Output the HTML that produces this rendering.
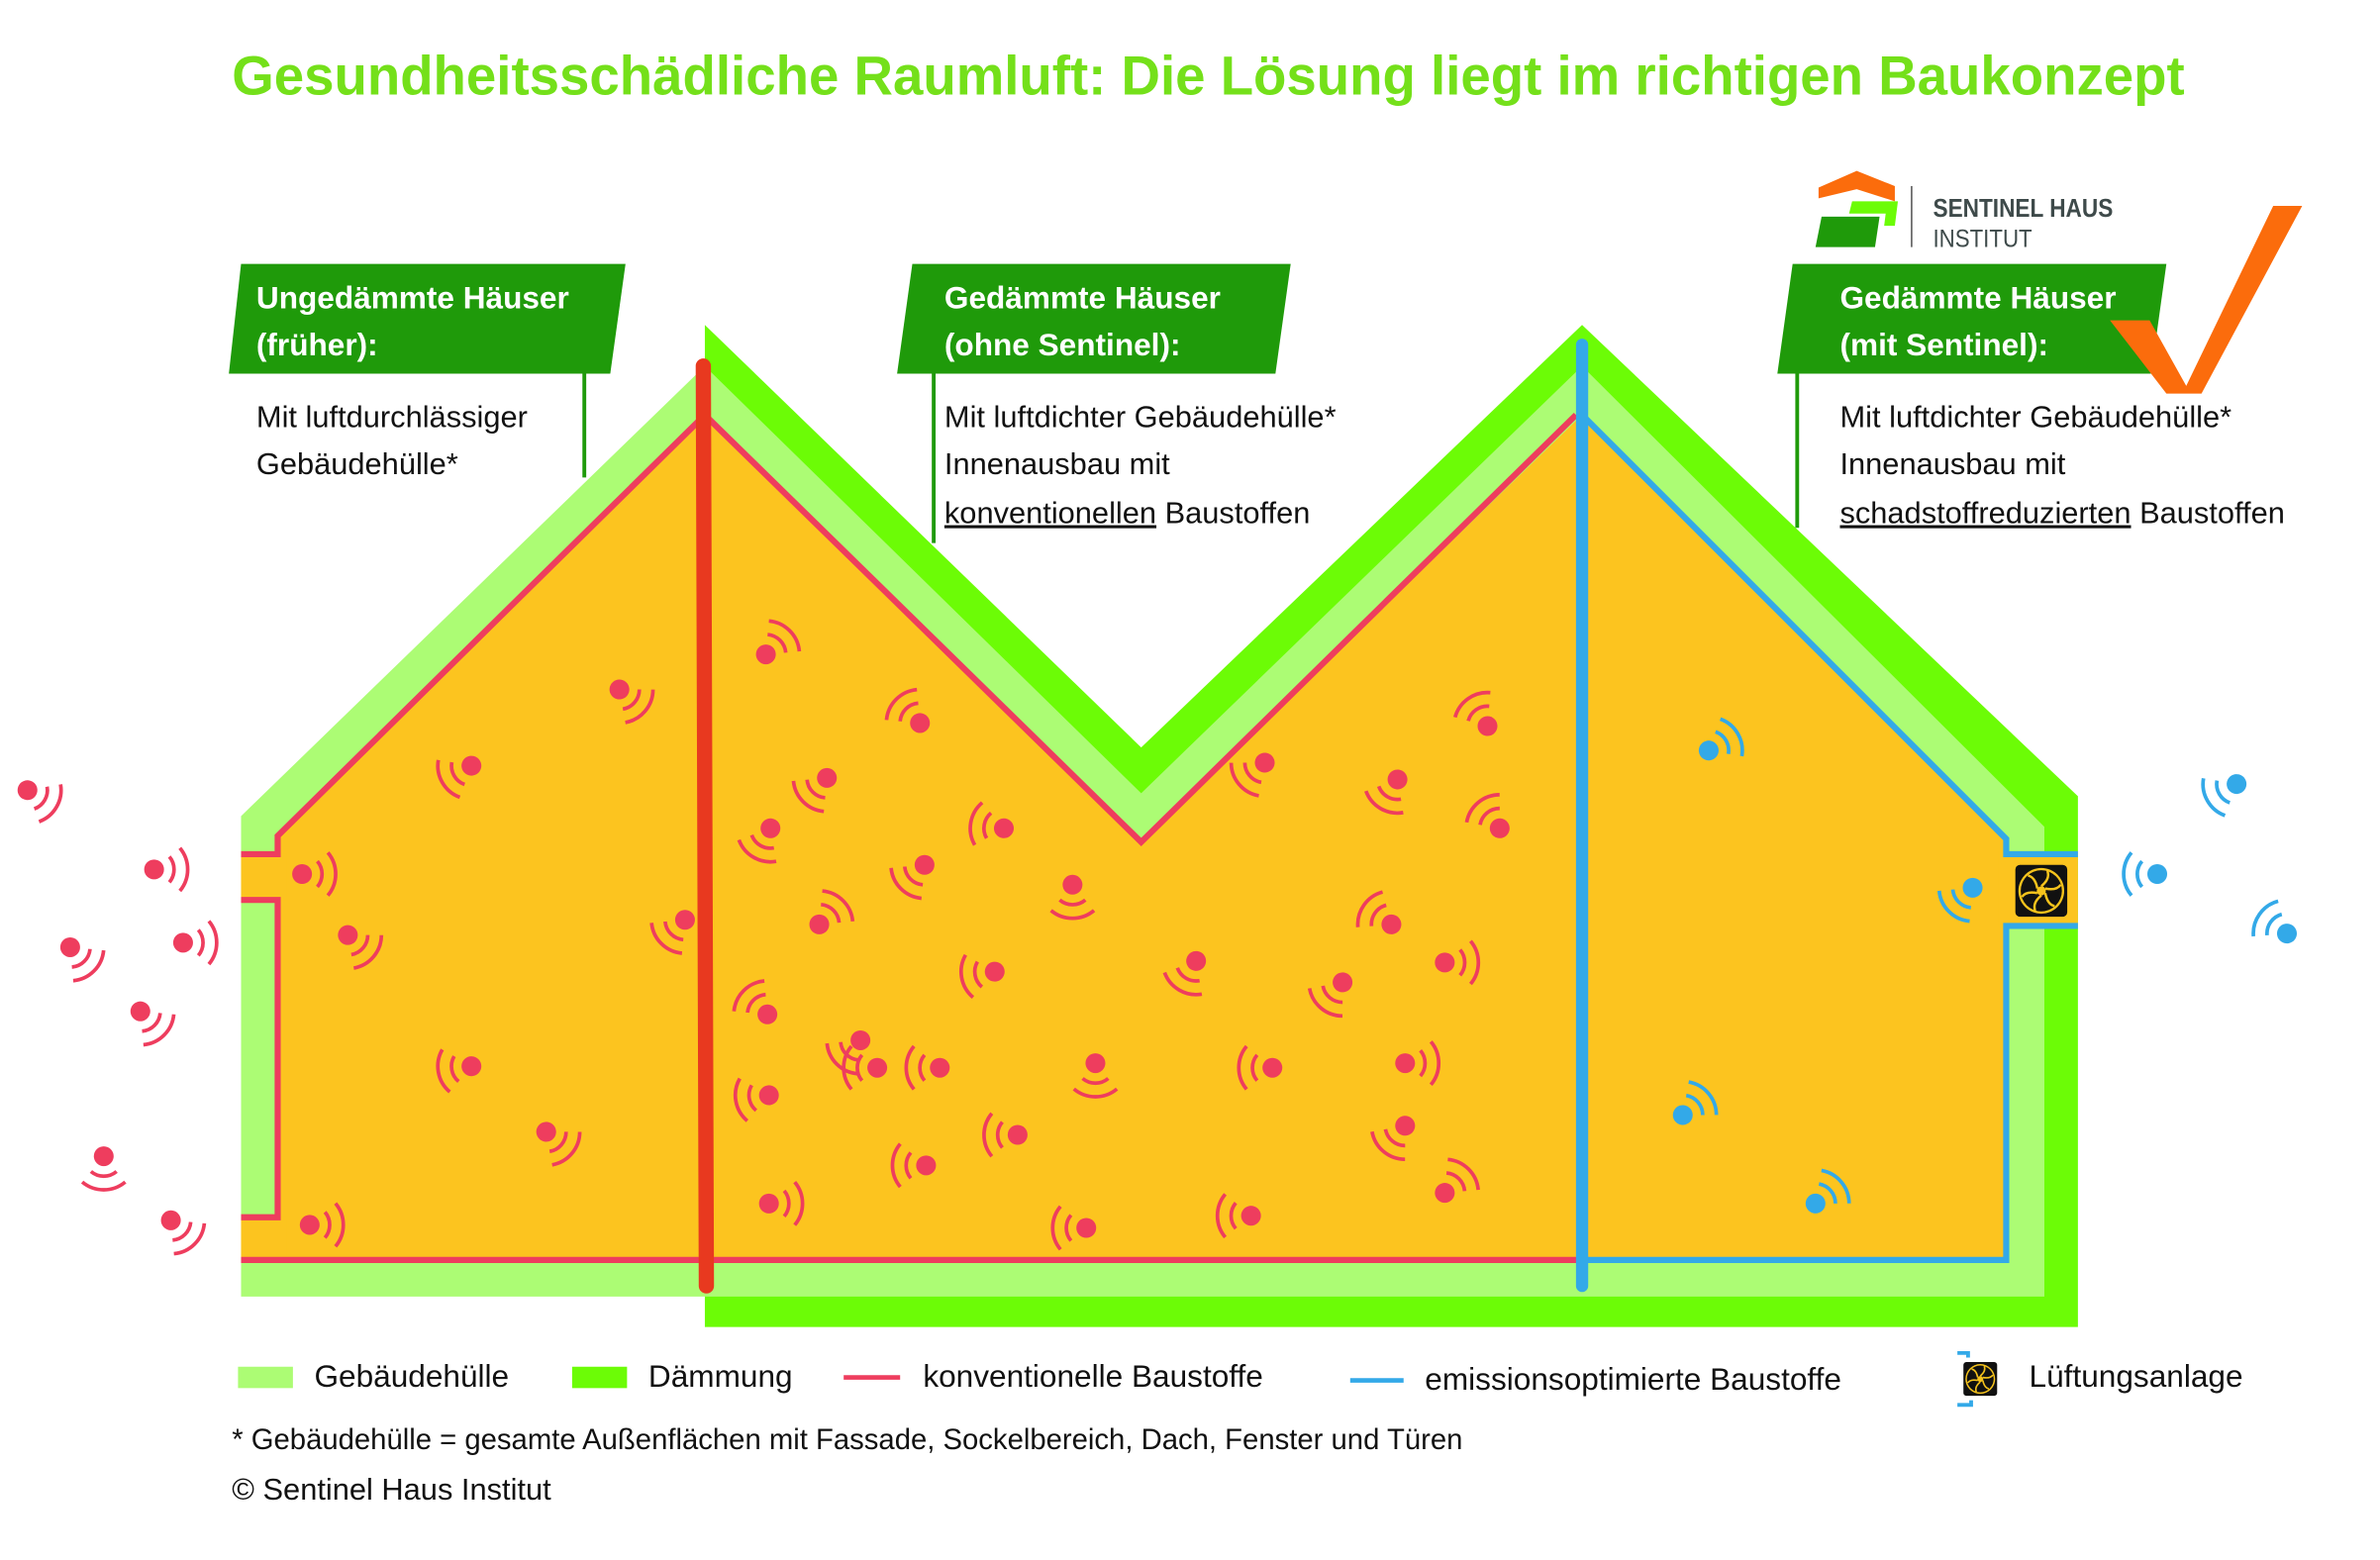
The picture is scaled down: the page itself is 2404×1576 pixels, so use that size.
<!DOCTYPE html>
<html><head><meta charset="utf-8"><style>html,body{margin:0;padding:0;background:#fff}svg{display:block}</style></head>
<body>
<svg width="2404" height="1576" viewBox="0 0 1560 1022.7" xmlns="http://www.w3.org/2000/svg" font-family="Liberation Sans, DejaVu Sans, sans-serif">
<defs>
<g id="r"><circle r="6.5" fill="#ee3d5e"/><path d="M10,-8.4 A13,13 0 0 1 10,8.4 M16.9,-14.1 A22,22 0 0 1 16.9,14.1" fill="none" stroke="#ee3d5e" stroke-width="2.4"/></g>
<g id="b"><circle r="6.5" fill="#33a9e8"/><path d="M10,-8.4 A13,13 0 0 1 10,8.4 M16.9,-14.1 A22,22 0 0 1 16.9,14.1" fill="none" stroke="#33a9e8" stroke-width="2.4"/></g>
<g id="fan"><rect x="-17" y="-17" width="34" height="34" rx="3" fill="#111"/><circle r="15" fill="#f5c31c"/><circle r="13.5" fill="#111"/>
<g stroke="#f5c31c" stroke-width="1.6" fill="none"><path d="M0,-3 Q6,-8 4,-13"/><path d="M2.6,-1.5 Q10,-0 12.7,-4"/><path d="M2.6,1.5 Q4,9 8.7,10"/><path d="M0,3 Q-6,8 -4,13"/><path d="M-2.6,1.5 Q-10,0 -12.7,4"/><path d="M-2.6,-1.5 Q-4,-9 -8.7,-10"/></g><circle r="3" fill="#f5c31c"/></g>
</defs>
<text x="152" y="62" font-size="36" font-weight="bold" fill="#74e01a" textLength="1280" lengthAdjust="spacingAndGlyphs">Gesundheitsschädliche Raumluft: Die Lösung liegt im richtigen Baukonzept</text>

<polygon points="462,213 748,490 1037,213 1362,522 1362,870 462,870" fill="#6cfc06"/>
<polygon points="158,535 462,240 748,520 1037,240 1340,542 1340,850 158,850" fill="#acfc74"/>
<polygon points="182,550 462,272 748,552 1037,272 1315,550 1315,826 182,826" fill="#fcc41f"/>
<rect x="158" y="560" width="30" height="30" fill="#fcc41f"/>
<rect x="158" y="798" width="30" height="28" fill="#fcc41f"/>
<rect x="1310" y="558" width="52" height="50" fill="#fcc41f"/>
<polyline points="158,560 182,560 182,548 462,272 748,552 1033,272" fill="none" stroke="#ee3d5e" stroke-width="4"/>
<polyline points="158,590 182,590 182,798 158,798" fill="none" stroke="#ee3d5e" stroke-width="4"/>
<line x1="158" y1="826" x2="1037" y2="826" stroke="#ee3d5e" stroke-width="4"/>
<polyline points="1037,272 1315,550 1315,560 1362,560" fill="none" stroke="#33a9e8" stroke-width="4"/>
<polyline points="1362,607 1315,607 1315,826 1037,826" fill="none" stroke="#33a9e8" stroke-width="4"/>
<use href="#fan" x="1338" y="584"/>
<line x1="461" y1="240" x2="463" y2="843" stroke="#e8391f" stroke-width="10" stroke-linecap="round"/>
<line x1="1037" y1="226" x2="1037" y2="843" stroke="#33a9e8" stroke-width="8" stroke-linecap="round"/>

<g stroke="#1f9a0a" stroke-width="2.5"><line x1="383" y1="245" x2="383" y2="313"/><line x1="612" y1="245" x2="612" y2="356"/><line x1="1178" y1="245" x2="1178" y2="346"/></g>
<polygon points="158,173 410,173 400,245 150,245" fill="#1f9a0a"/>
<polygon points="598,173 846,173 836,245 588,245" fill="#1f9a0a"/>
<polygon points="1175,173 1420,173 1410,245 1165,245" fill="#1f9a0a"/>
<g fill="#fff" font-weight="bold" font-size="20.5">
<text x="168" y="202">Ungedämmte Häuser</text><text x="168" y="233">(früher):</text>
<text x="619" y="202">Gedämmte Häuser</text><text x="619" y="233">(ohne Sentinel):</text>
<text x="1206" y="202">Gedämmte Häuser</text><text x="1206" y="233">(mit Sentinel):</text>
</g>
<polygon points="1383,210 1409,210 1433,253 1490,135 1509,135 1443,258 1420,258" fill="#fb6c0c"/>
<g font-size="20" fill="#111">
<text x="168" y="280">Mit luftdurchlässiger</text><text x="168" y="311">Gebäudehülle*</text>
<text x="619" y="280">Mit luftdichter Gebäudehülle*</text><text x="619" y="311">Innenausbau mit</text><text x="619" y="343"><tspan text-decoration="underline">konventionellen</tspan> Baustoffen</text>
<text x="1206" y="280">Mit luftdichter Gebäudehülle*</text><text x="1206" y="311">Innenausbau mit</text><text x="1206" y="343"><tspan text-decoration="underline">schadstoffreduzierten</tspan> Baustoffen</text>
</g>
<polygon points="1192,130 1192,123 1217,112 1242,122 1242,132 1217,124" fill="#fb6c0c"/>
<polygon points="1214,132 1244,132 1242,148 1235,148 1236,140 1212,140" fill="#6cfc06"/>
<polygon points="1194,142 1232,142 1229,162 1190,162" fill="#1f9a0a"/>
<line x1="1253" y1="122" x2="1253" y2="162" stroke="#555" stroke-width="1"/>
<text x="1267" y="142" font-size="17" font-weight="bold" fill="#3e4a4a" textLength="118" lengthAdjust="spacingAndGlyphs">SENTINEL HAUS</text>
<text x="1267" y="162" font-size="16" fill="#3e4a4a" textLength="65" lengthAdjust="spacingAndGlyphs">INSTITUT</text>

<g>
<use href="#r" transform="translate(18,518) rotate(30)"/>
<use href="#r" transform="translate(101,570) rotate(0)"/>
<use href="#r" transform="translate(46,621) rotate(45)"/>
<use href="#r" transform="translate(120,618) rotate(0)"/>
<use href="#r" transform="translate(92,663) rotate(45)"/>
<use href="#r" transform="translate(68,758) rotate(90)"/>
<use href="#r" transform="translate(112,800) rotate(45)"/>
<use href="#r" transform="translate(198,573) rotate(0)"/>
<use href="#r" transform="translate(228,613) rotate(40)"/>
<use href="#r" transform="translate(309,502) rotate(150)"/>
<use href="#r" transform="translate(406,452) rotate(40)"/>
<use href="#r" transform="translate(309,699) rotate(170)"/>
<use href="#r" transform="translate(358,742) rotate(40)"/>
<use href="#r" transform="translate(203,803) rotate(0)"/>
<use href="#r" transform="translate(449,603) rotate(135)"/>
<use href="#r" transform="translate(502,429) rotate(315)"/>
<use href="#r" transform="translate(505,543) rotate(120)"/>
<use href="#r" transform="translate(542,510) rotate(135)"/>
<use href="#r" transform="translate(537,606) rotate(315)"/>
<use href="#r" transform="translate(603,474) rotate(225)"/>
<use href="#r" transform="translate(606,567) rotate(135)"/>
<use href="#r" transform="translate(658,543) rotate(190)"/>
<use href="#r" transform="translate(703,580) rotate(90)"/>
<use href="#r" transform="translate(652,637) rotate(170)"/>
<use href="#r" transform="translate(784,630) rotate(120)"/>
<use href="#r" transform="translate(880,644) rotate(130)"/>
<use href="#r" transform="translate(829,500) rotate(140)"/>
<use href="#r" transform="translate(916,511) rotate(120)"/>
<use href="#r" transform="translate(975,476) rotate(235)"/>
<use href="#r" transform="translate(983,543) rotate(230)"/>
<use href="#r" transform="translate(912,606) rotate(215)"/>
<use href="#r" transform="translate(947,631) rotate(0)"/>
<use href="#r" transform="translate(503,665) rotate(225)"/>
<use href="#r" transform="translate(504,718) rotate(170)"/>
<use href="#r" transform="translate(564,682) rotate(135)"/>
<use href="#r" transform="translate(575,700) rotate(180)"/>
<use href="#r" transform="translate(616,700) rotate(180)"/>
<use href="#r" transform="translate(667,744) rotate(180)"/>
<use href="#r" transform="translate(718,697) rotate(90)"/>
<use href="#r" transform="translate(834,700) rotate(180)"/>
<use href="#r" transform="translate(921,697) rotate(0)"/>
<use href="#r" transform="translate(921,738) rotate(130)"/>
<use href="#r" transform="translate(947,782) rotate(315)"/>
<use href="#r" transform="translate(607,764) rotate(180)"/>
<use href="#r" transform="translate(504,789) rotate(0)"/>
<use href="#r" transform="translate(712,805) rotate(180)"/>
<use href="#r" transform="translate(820,797) rotate(180)"/>
</g>
<g>
<use href="#b" transform="translate(1120,492) rotate(330)"/>
<use href="#b" transform="translate(1293,582) rotate(135)"/>
<use href="#b" transform="translate(1103,731) rotate(320)"/>
<use href="#b" transform="translate(1190,789) rotate(320)"/>
<use href="#b" transform="translate(1466,514) rotate(150)"/>
<use href="#b" transform="translate(1414,573) rotate(180)"/>
<use href="#b" transform="translate(1499,612) rotate(215)"/>
</g>

<rect x="156" y="896" width="36" height="14" fill="#acfc74"/>
<text x="206" y="909" font-size="20.5" fill="#111">Gebäudehülle</text>
<rect x="375" y="896" width="36" height="14" fill="#6cfc06"/>
<text x="425" y="909" font-size="20.5" fill="#111">Dämmung</text>
<line x1="553" y1="903" x2="590" y2="903" stroke="#ee3d5e" stroke-width="3"/>
<text x="605" y="909" font-size="20.5" fill="#111">konventionelle Baustoffe</text>
<line x1="885" y1="905" x2="920" y2="905" stroke="#33a9e8" stroke-width="3"/>
<text x="934" y="911" font-size="20.5" fill="#111">emissionsoptimierte Baustoffe</text>
<polyline points="1283,887 1290,887 1290,890" fill="none" stroke="#33a9e8" stroke-width="2.5"/>
<polyline points="1283,921 1292,921 1292,918" fill="none" stroke="#33a9e8" stroke-width="2.5"/>
<use href="#fan" transform="translate(1298,904) scale(0.65)"/>
<text x="1330" y="909" font-size="20.5" fill="#111">Lüftungsanlage</text>
<text x="152" y="950" font-size="19" fill="#111">* Gebäudehülle = gesamte Außenflächen mit Fassade, Sockelbereich, Dach, Fenster und Türen</text>
<text x="152" y="983" font-size="20" fill="#111">© Sentinel Haus Institut</text>
</svg>
</body></html>
